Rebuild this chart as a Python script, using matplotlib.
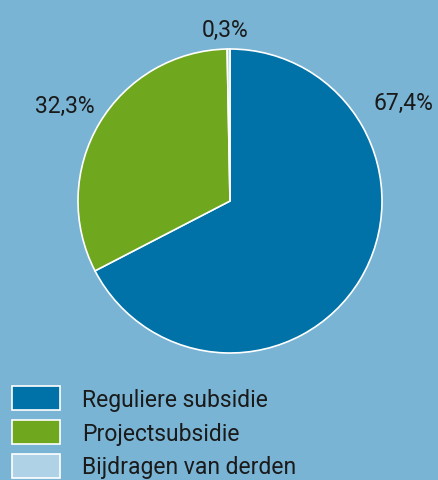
import matplotlib
matplotlib.use('Agg')
import matplotlib.pyplot as plt
from matplotlib.patches import Patch

# Data
labels = ['Reguliere subsidie', 'Projectsubsidie', 'Bijdragen van derden']
values = [67.4, 32.3, 0.3]
pct_text = ['67,4%', '32,3%', '0,3%']
colors = ['#0072a7', '#6fa71f', '#b0d2e6']
bg = '#79b4d4'

plt.rcParams['font.family'] = ['Roboto', 'DejaVu Sans']

fig = plt.figure(figsize=(4.39, 4.81), dpi=100, facecolor=bg)
ax = fig.add_axes([0, 0, 1, 1])
ax.set_facecolor(bg)

ax.pie(values, colors=colors, startangle=90, counterclock=False,
       wedgeprops=dict(edgecolor='white', linewidth=1.2))

# positions of the percentage labels (radius units)
label_pos = [(1.14, 0.645), (-1.085, 0.63), (-0.03, 1.13)]
for (x, y), t in zip(label_pos, pct_text):
    ax.text(x, y, t, ha='center', va='center', fontsize=16.5, color='#1a1a1a')

ax.set_xlim(-230 / 152, 209 / 152)
ax.set_ylim(-279 / 152, 202 / 152)
ax.set_aspect('auto')
ax.axis('off')

handles = [Patch(facecolor=c, edgecolor='white', linewidth=1.2) for c in colors]
fig.legend(handles, labels, loc='upper left', bbox_to_anchor=(12 / 439, 1 - 387 / 481),
           frameon=False, fontsize=16.5, handlelength=2.1, handleheight=1.23,
           labelspacing=0.4, handletextpad=0.95, borderpad=0, borderaxespad=0,
           labelcolor='#1a1a1a')

fig.savefig('out.png', dpi=100, facecolor=bg)
